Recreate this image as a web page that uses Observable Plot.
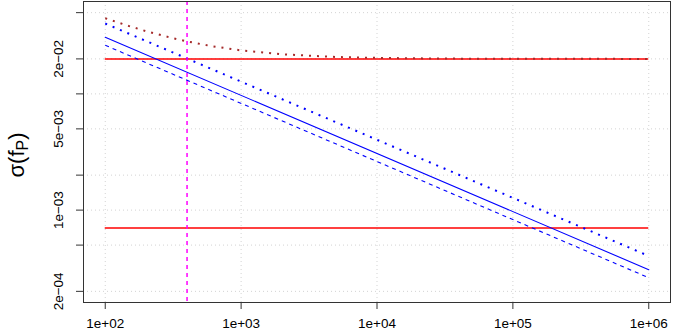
<!DOCTYPE html>
<html>
<head>
<meta charset="utf-8">
<script src="https://cdn.jsdelivr.net/npm/d3@7"></script>
<script src="https://cdn.jsdelivr.net/npm/@observablehq/plot@0.6"></script>
<style>
  html, body { margin: 0; padding: 0; background: white; }
  svg { display: block; }
</style>
</head>
<body>
<div id="chart"></div>
<script>
// ---- data ----
const xLimits = [100, 1e6];
const yLimits = [2e-4, 5e-2];
const lineF = [100, 1e6];
const sigmaSolid = [0.0307, 0.000307];
const sigmaDashed = [0.0262, 0.000262];
const sigmaDotted = [0.0403, 0.000403];
const brownF = [100, 150, 200, 300, 400, 600, 1000, 2000, 5000, 10000, 30000, 100000, 1000000];
const brownSigma = [0.0447, 0.0383, 0.0346, 0.03055, 0.0283, 0.0258, 0.02366, 0.0219, 0.02078, 0.0204, 0.02013, 0.02004, 0.0200];
const redLevels = [0.02, 0.0007];
const fMarker = [400];
const xTicks = [1e2, 1e3, 1e4, 1e5, 1e6];
const xTickLabels = ["1e+02", "1e+03", "1e+04", "1e+05", "1e+06"];
const yTicks = [5e-2, 2e-2, 1e-2, 5e-3, 2e-3, 1e-3, 5e-4, 2e-4];
const yTickLabels = ["", "2e\u221202", "", "5e\u221203", "", "1e\u221203", "", "2e\u221204"];

// ---- build tables ----
const toRows = (fs, ss) => fs.map((f, i) => ({f, s: ss[i]}));
const solidRows = toRows(lineF, sigmaSolid);
const dashedRows = toRows(lineF, sigmaDashed);
const dottedRows = toRows(lineF, sigmaDotted);
const brownRows = toRows(brownF, brownSigma);
const xLabelMap = new Map(xTicks.map((t, i) => [t, xTickLabels[i]]));
const yLabelRows = yTicks.map((v, i) => ({v, t: yTickLabels[i]})).filter(d => d.t !== "");

// R-style 4% axis extension in log space
const ext = (lim) => {
  const a = Math.log10(lim[0]), b = Math.log10(lim[1]), e = 0.04 * (b - a);
  return [Math.pow(10, a - e), Math.pow(10, b + e)];
};

const fs = 13.5;
const dotStyle = {strokeWidth: 2, strokeDasharray: "2,6", strokeLinecap: "butt"};
const plot = Plot.plot({
  width: 673,
  height: 335,
  marginLeft: 83,
  marginRight: 3,
  marginTop: 1,
  marginBottom: 33,
  x: {type: "log", domain: ext(xLimits)},
  y: {type: "log", domain: ext(yLimits)},
  style: {fontFamily: "'Liberation Sans', Arial, Helvetica, sans-serif", fontSize: fs + "px", background: "white", color: "black"},
  marks: [
    Plot.gridX({ticks: xTicks, stroke: "#d3d3d3", strokeOpacity: 1, strokeDasharray: "1,3"}),
    Plot.gridY({ticks: yTicks, stroke: "#d3d3d3", strokeOpacity: 1, strokeDasharray: "1,3"}),
    Plot.ruleY(redLevels, {x1: xLimits[0], x2: xLimits[1], stroke: "red", strokeWidth: 1.5}),
    Plot.line(solidRows, {x: "f", y: "s", stroke: "blue", strokeWidth: 1.1}),
    Plot.line(dashedRows, {x: "f", y: "s", stroke: "blue", strokeWidth: 1.1, strokeDasharray: "4,4", strokeLinecap: "butt"}),
    Plot.line(dottedRows, {x: "f", y: "s", stroke: "blue", ...dotStyle}),
    Plot.line(brownRows, {x: "f", y: "s", stroke: "#a52a2a", ...dotStyle}),
    Plot.ruleX(fMarker, {stroke: "magenta", strokeWidth: 1.5, strokeDasharray: "4,4"}),
    Plot.frame({stroke: "#333"}),
    Plot.axisX({ticks: xTicks, tickFormat: d => xLabelMap.get(d), tickSize: 7, tickPadding: 9, label: null, stroke: "#333", fontSize: fs}),
    Plot.axisY({ticks: yTicks, tickFormat: () => "", tickSize: 7, label: null, stroke: "#333"}),
    Plot.text(yLabelRows, {y: "v", text: "t", frameAnchor: "left", dx: -24.5, rotate: -90, textAnchor: "middle", lineAnchor: "middle", fontSize: fs})
  ]
});

// y-axis title with subscript
const svg = d3.select(plot);
const lab = svg.append("text")
  .attr("transform", "translate(24,155) rotate(-90)")
  .attr("text-anchor", "middle")
  .attr("font-family", "'Liberation Sans', Arial, Helvetica, sans-serif")
  .attr("font-size", 22)
  .attr("fill", "black");
lab.append("tspan").text("\u03c3(f");
lab.append("tspan").attr("font-size", 16).attr("dy", 4).text("P");
lab.append("tspan").attr("dy", -4).text(")");

document.getElementById("chart").appendChild(plot);
</script>
</body>
</html>
